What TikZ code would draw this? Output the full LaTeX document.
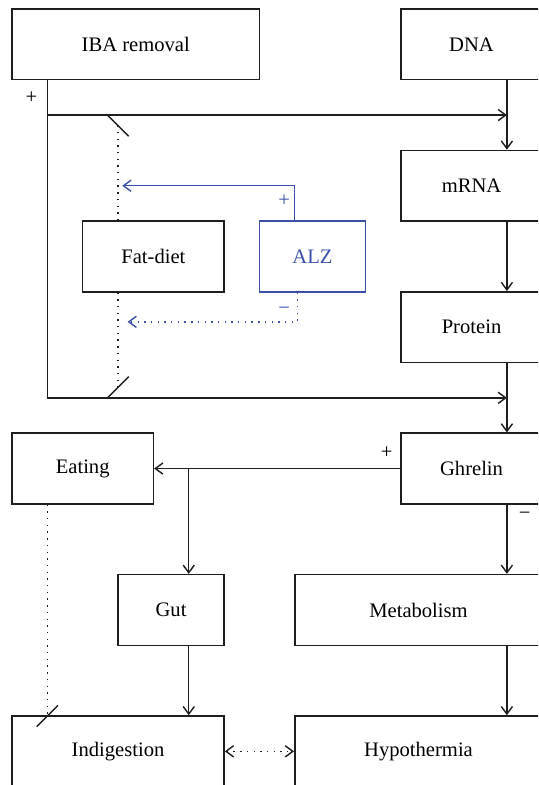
\documentclass[tikz,border=0pt]{standalone}
\usepackage{fontspec}
\setmainfont{Liberation Serif}
\usetikzlibrary{arrows.meta}
\definecolor{alzblue}{RGB}{60,80,170}
\definecolor{ink}{RGB}{30,30,30}
\def\gridu{17.675pt}
\begin{document}
\begin{tikzpicture}[x=17.675pt,y=-17.675pt,
  box/.style={draw=ink, line width=0.75pt, inner sep=0pt, font=\fontsize{10.3}{12}\selectfont, text=black},
  tip/.style={-{Straight Barb[length=3.8pt,width=5.6pt]}},
  conn/.style={draw=ink, line width=0.7pt, tip},
  dots/.style={line width=0.7pt, dash pattern=on 0.7pt off 2.65pt},
  barline/.style={draw=ink, line width=0.7pt},
  sign/.style={font=\fontsize{10.3}{12}\selectfont, inner sep=0pt}
]
\useasboundingbox (-0.3395,-0.2546) rectangle (14.880,21.952);
\clip (-0.3395,-0.2546) rectangle (14.880,21.952);

% boxes
\node[box, minimum width=7*\gridu, minimum height=2*\gridu] (iba) at (3.5,1) {IBA removal};
\node[box, minimum width=4*\gridu, minimum height=2*\gridu] (dna) at (13,1) {DNA};
\node[box, minimum width=4*\gridu, minimum height=2*\gridu] (mrna) at (13,5) {mRNA};
\node[box, minimum width=4*\gridu, minimum height=2*\gridu] (fat) at (4,7) {Fat-diet};
\node[box, draw=alzblue, text=alzblue, minimum width=3*\gridu, minimum height=2*\gridu] (alz) at (8.5,7) {ALZ};
\node[box, minimum width=4*\gridu, minimum height=2*\gridu] (prot) at (13,9) {Protein};
\node[box, minimum width=4*\gridu, minimum height=2*\gridu] (eat) at (2,13) {Eating};
\node[box, minimum width=4*\gridu, minimum height=2*\gridu] (ghr) at (13,13) {Ghrelin};
\node[box, minimum width=3*\gridu, minimum height=2*\gridu] (gut) at (4.5,17) {Gut};
\node[box, minimum width=7*\gridu, minimum height=2*\gridu] (met) at (11.5,17) {Metabolism};
\node[box, minimum width=6*\gridu, minimum height=2*\gridu] (ind) at (3,21) {Indigestion};
\node[box, minimum width=7*\gridu, minimum height=2*\gridu] (hyp) at (11.5,21) {Hypothermia};

% helper coordinates
\coordinate (rx) at (14,0);
\coordinate (lx) at (1,0);
\coordinate (t1) at (1,3);
\coordinate (t2) at (14,3);
\coordinate (b1) at (1,11);
\coordinate (b2) at (14,11);
\coordinate (s1) at (3,3.3);
\coordinate (s2) at (3,10.7);
\coordinate (s3) at (1,20);
\coordinate (a1) at (8,5);
\coordinate (a2) at (3.12,5);
\coordinate (d1) at (8.07,8.85);
\coordinate (d2) at (3.27,8.85);
\coordinate (g1) at (5,13);

% right column
\draw[conn] (dna.south -| rx) -- (mrna.north -| rx);
\draw[conn] (mrna.south -| rx) -- (prot.north -| rx);
\draw[conn] (prot.south -| rx) -- (ghr.north -| rx);
\draw[conn] (ghr.south -| rx) -- (met.north -| rx);
\draw[conn] (met.south -| rx) -- (hyp.north -| rx);

% IBA removal
\draw[conn] (iba.south -| lx) -- (b1) -- (b2);
\draw[conn] (t1) -- (t2);
\node[sign] (p1) at (0.55,2.5) {+};

% Fat-diet inhibition
\draw[dots, draw=ink] (fat.north -| s1) -- (s1);
\draw[barline] ([shift={(-0.3,-0.3)}]s1) -- ([shift={(0.3,0.3)}]s1);
\draw[dots, draw=ink] (fat.south -| s2) -- (s2);
\draw[barline] ([shift={(-0.3,0.3)}]s2) -- ([shift={(0.3,-0.3)}]s2);

% ALZ
\draw[conn, draw=alzblue] (alz.north -| a1) -- (a1) -- (a2);
\node[sign, text=alzblue] (p2) at (7.7,5.42) {+};
\draw[conn, dots, draw=alzblue] (alz.south -| d1) -- (d1) -- (d2);
\node[sign, text=alzblue] (m1) at (7.7,8.55) {−};

% Ghrelin
\draw[conn] (ghr.west) -- (eat.east);
\node[sign] (p3) at (10.6,12.55) {+};
\draw[conn] (g1) -- (gut.north -| g1);
\draw[conn] (gut.south -| g1) -- (ind.north -| g1);
\node[sign] (m2) at (14.5,14.35) {−};

% Eating inhibition
\draw[dots, draw=ink] (eat.south -| s3) -- (s3);
\draw[barline] ([shift={(-0.3,0.3)}]s3) -- ([shift={(0.3,-0.3)}]s3);

% Indigestion <-> Hypothermia
\draw[dots, draw=ink, {Straight Barb[length=3.8pt,width=5.6pt]}-{Straight Barb[length=3.8pt,width=5.6pt]}] (ind.east) -- (hyp.west);
\end{tikzpicture}
\end{document}
